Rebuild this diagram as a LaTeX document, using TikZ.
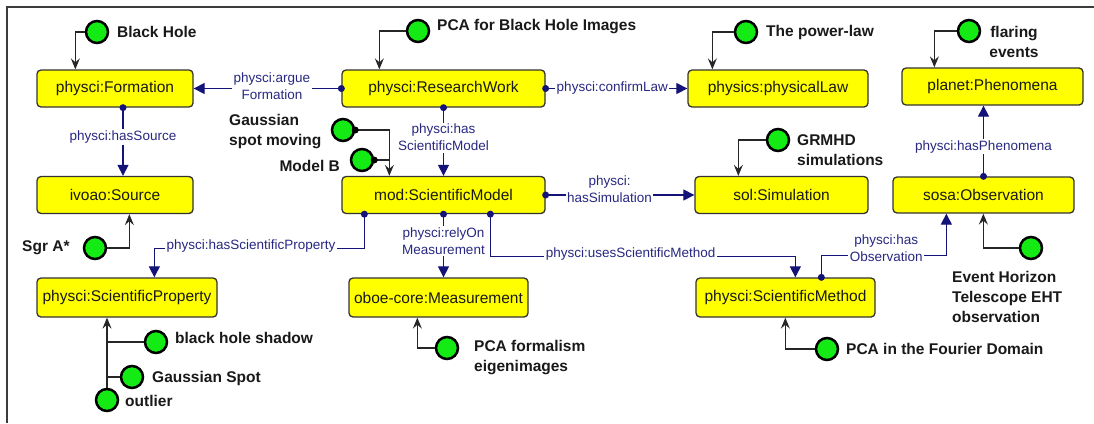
\documentclass[tikz,border=0pt]{standalone}
\usepackage{fontspec}
\setmainfont{Liberation Sans}
\usetikzlibrary{arrows.meta,calc}
\definecolor{boxyellow}{RGB}{255,255,0}
\definecolor{navyline}{RGB}{20,20,120}
\definecolor{navytext}{RGB}{40,40,130}
\definecolor{dotgreen}{RGB}{20,235,20}
\definecolor{framegray}{RGB}{60,60,60}
\begin{document}
\begin{tikzpicture}[x=1pt,y=-1pt,
  cls/.style={draw=black!80, line width=1.3pt, fill=boxyellow, rounded corners=4pt, inner sep=0pt,
    font=\fontsize{15.5}{18}\selectfont, text=black!90},
  ind/.style={circle, draw=black, line width=2.5pt, fill=dotgreen, minimum size=22pt, inner sep=0pt},
  lab/.style={font=\bfseries\fontsize{15.5}{20}\selectfont, inner sep=0pt, align=left, text=black!90},
  rel/.style={draw=navyline, line width=1.2pt, -{Triangle[length=11pt,width=11pt]}},
  rlab/.style={fill=white, text=navytext, font=\fontsize{13.5}{17}\selectfont, inner sep=1.5pt, align=center},
  srcdot/.style={circle, fill=navyline, inner sep=0pt, minimum size=7pt},
  bdot/.style={circle, fill=black, inner sep=0pt, minimum size=7pt},
  typ/.style={draw=black!85, line width=1.2pt, -{Stealth[length=11pt,width=9pt,inset=4pt]}},
  plainline/.style={draw=black!85, line width=1.2pt}
]
\useasboundingbox (0,0) rectangle (1094,423);
\fill[white] (0,0) rectangle (1094,423);
\draw[framegray, line width=1.4pt] (1094,7) -- (7,7) -- (7,423);

% classes
\node[cls, minimum width=156pt, minimum height=37pt] (form) at (115,88.5) {physci:Formation};
\node[cls, minimum width=156pt, minimum height=37pt] (src)  at (115,195) {ivoao:Source};
\node[cls, minimum width=203pt, minimum height=37pt] (rw)   at (443.5,88.5) {physci:ResearchWork};
\node[cls, minimum width=203pt, minimum height=37pt] (sm)   at (443.5,195) {mod:ScientificModel};
\node[cls, minimum width=180pt, minimum height=37pt] (law)  at (778,88.5) {physics:physicalLaw};
\node[cls, minimum width=173pt, minimum height=37pt] (sim)  at (781.5,195) {sol:Simulation};
\node[cls, minimum width=181pt, minimum height=37pt] (phen) at (992.5,86.5) {planet:Phenomena};
\node[cls, minimum width=181pt, minimum height=36pt] (obs)  at (983.5,195) {sosa:Observation};
\node[cls, minimum width=180pt, minimum height=39pt] (prop) at (127,297.5) {physci:ScientificProperty};
\node[cls, minimum width=179pt, minimum height=39pt] (meas) at (438.5,297.5) {oboe-core:Measurement};
\node[cls, minimum width=179pt, minimum height=39pt] (meth) at (785.5,297.5) {physci:ScientificMethod};

% individuals
\node[ind] (bh)  at (97,32) {};
\node[ind] (pca) at (418,31) {};
\node[ind] (pl)  at (746,32) {};
\node[ind] (fl)  at (969,31) {};
\node[ind] (gr)  at (778,140) {};
\node[ind] (gsm) at (343,130) {};
\node[ind] (mb)  at (362,160) {};
\node[ind] (sgr) at (95,248) {};
\node[ind] (bhs) at (156,342) {};
\node[ind] (gs)  at (132,377) {};
\node[ind] (ol)  at (107,400) {};
\node[ind] (pf)  at (447,348) {};
\node[ind] (eht) at (1031,248) {};
\node[ind] (pcf) at (827,349) {};

% individual labels
\node[lab, anchor=west] (tbh)  at (117,32) {Black Hole};
\node[lab, anchor=west] (tpca) at (437,27) {PCA for Black Hole Images};
\node[lab, anchor=west] (tpl)  at (766,32) {The power-law};
\node[lab, align=center] (tfl) at (1014,42) {flaring\\events};
\node[lab, anchor=west] (tgr)  at (797,150) {GRMHD\\simulations};
\node[lab, anchor=west] (tgsm) at (229,132) {Gaussian\\spot moving};
\node[lab, anchor=east] (tmb)  at (340,166) {Model B};
\node[lab, anchor=west] (tsgr) at (22,248) {Sgr A*};
\node[lab, anchor=west] (tbhs) at (175,338) {black hole shadow};
\node[lab, anchor=west] (tgs)  at (152,378) {Gaussian Spot};
\node[lab, anchor=west] (tol)  at (125,401) {outlier};
\node[lab, anchor=west] (tpf)  at (474,358) {PCA formalism\\eigenimages};
\node[lab, anchor=west] (teht) at (952,297) {Event Horizon\\Telescope EHT\\observation};
\node[lab, anchor=west] (tpcf) at (846,349) {PCA in the Fourier Domain};

% type connectors
\coordinate (smin) at ([xshift=48pt]sm.north west);
\draw[typ] (bh.west) -| ([xshift=39pt]form.north west);
\draw[typ] (pca.west) -| ([xshift=38pt]rw.north west);
\draw[typ] (pl.west) -| ([xshift=25pt]law.north west);
\draw[typ] (fl.west) -| ([xshift=33pt]phen.north west);
\draw[typ] (gr.west) -| ([xshift=44pt]sim.north west);
\draw[plainline] (mb.east) -- (mb.east -| smin);
\draw[typ] (gsm.east) -| (smin);
\node[bdot] at (gsm.east) {};
\node[bdot] at (mb.east) {};
\draw[typ] (sgr.east) -| ([xshift=93pt]src.south west);
\draw[typ] (ol.north) -- (ol.north |- prop.south);
\draw[plainline] (bhs.west) -- (bhs.west -| ol.north);
\draw[plainline] (gs.west) -- (gs.west -| ol.north);
\draw[typ] (pf.west) -| ([xshift=69pt]meas.south west);
\draw[typ] (eht.west) -| ([xshift=91pt]obs.south west);
\draw[typ] (pcf.west) -| ([xshift=90pt]meth.south west);

% object properties
\draw[rel] (rw.west) node[srcdot]{} -- node[rlab, pos=0.47, yshift=2.5pt]{physci:argue\\Formation} (form.east);
\draw[rel] (rw.east) node[srcdot]{} -- node[rlab, pos=0.47]{physci:confirmLaw} (law.west);
\draw[rel] ([xshift=8pt]form.south) node[srcdot]{} -- node[rlab, pos=0.43]{physci:hasSource} ([xshift=8pt]form.south |- src.north);
\draw[rel] (rw.south) node[srcdot]{} -- node[rlab, pos=0.44]{physci:has\\ScientificModel} (sm.north);
\draw[rel] (sm.east) node[srcdot]{} -- node[rlab, pos=0.43, yshift=6pt]{physci:\\hasSimulation} (sim.west);
\draw[rel] ([xshift=23pt]sm.south west) node[srcdot]{} -- ++(0,34) -| node[rlab, pos=0.27, yshift=2pt]{physci:hasScientificProperty} ([xshift=118pt]prop.north west);
\draw[rel] (sm.south) node[srcdot]{} -- node[rlab, pos=0.42]{physci:relyOn\\Measurement} (sm.south |- meas.north);
\draw[rel] ([xshift=149pt]sm.south west) node[srcdot]{} -- ++(0,42) -| node[rlab, pos=0.23, yshift=2pt]{physci:usesScientificMethod} ([xshift=100pt]meth.north west);
\draw[rel] ([xshift=126pt]meth.north west) node[srcdot]{} -- ++(0,-22) -| node[rlab, pos=0.26, yshift=7pt]{physci:has\\Observation} ([xshift=54pt]obs.south west);
\draw[rel] (obs.north) node[srcdot]{} -- node[rlab, pos=0.42]{physci:hasPhenomena} (obs.north |- phen.south);
\end{tikzpicture}
\end{document}
